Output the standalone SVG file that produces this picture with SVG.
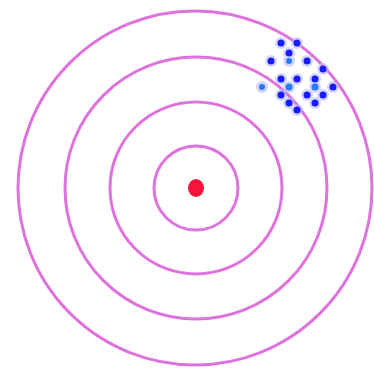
<svg xmlns="http://www.w3.org/2000/svg" width="374" height="370" viewBox="0 0 374 370">
<style>
.ring{fill:none;stroke:#d85ad8;stroke-width:3;stroke-opacity:0.85}
.shot{fill:#1a1aff}
.shot2{fill:#2a7aff}
.halo{fill:#b8bcff;opacity:0.6}
</style>
<rect width="374" height="370" fill="#ffffff"/>
<g id="target">
<circle class="ring" cx="195" cy="188" r="177"/>
<circle class="ring" cx="196" cy="188" r="131"/>
<circle class="ring" cx="196" cy="188" r="86"/>
<circle class="ring" cx="196" cy="188" r="42"/>
</g>
<g id="center"><ellipse cx="196" cy="188" rx="8" ry="9" fill="#f5143c"/></g>
<g id="shots">
<g class="halo">
<circle cx="281" cy="43" r="6"/><circle cx="297" cy="43" r="6"/><circle cx="289" cy="53" r="6"/>
<circle cx="271" cy="61" r="6"/><circle cx="307" cy="61" r="6"/><circle cx="289" cy="61" r="6"/>
<circle cx="323" cy="69" r="6"/><circle cx="281" cy="79" r="6"/><circle cx="297" cy="79" r="6"/>
<circle cx="315" cy="79" r="6"/><circle cx="315" cy="87" r="6"/><circle cx="289" cy="87" r="6"/>
<circle cx="262" cy="87" r="6"/><circle cx="333" cy="87" r="6"/><circle cx="281" cy="95" r="6"/>
<circle cx="307" cy="95" r="6"/><circle cx="323" cy="95" r="6"/><circle cx="289" cy="103" r="6"/>
<circle cx="315" cy="103" r="6"/><circle cx="297" cy="110" r="6"/>
</g>
<circle class="shot" cx="281" cy="43" r="3.5"/><circle class="shot" cx="297" cy="43" r="3.5"/><circle class="shot" cx="289" cy="53" r="3.5"/>
<circle class="shot" cx="271" cy="61" r="3.5"/><circle class="shot" cx="307" cy="61" r="3.5"/><circle class="shot2" cx="289" cy="61" r="3"/>
<circle class="shot" cx="323" cy="69" r="3.5"/><circle class="shot" cx="281" cy="79" r="3.5"/><circle class="shot" cx="297" cy="79" r="3.5"/>
<circle class="shot" cx="315" cy="79" r="3.5"/><circle class="shot2" cx="315" cy="87" r="3.5"/><circle class="shot2" cx="289" cy="87" r="3.5"/>
<circle class="shot2" cx="262" cy="87" r="3"/><circle class="shot" cx="333" cy="87" r="3.5"/><circle class="shot" cx="281" cy="95" r="3.5"/>
<circle class="shot" cx="307" cy="95" r="3.5"/><circle class="shot" cx="323" cy="95" r="3.5"/><circle class="shot" cx="289" cy="103" r="3.5"/>
<circle class="shot" cx="315" cy="103" r="3.5"/><circle class="shot" cx="297" cy="110" r="3.5"/>
</g>
</svg>
